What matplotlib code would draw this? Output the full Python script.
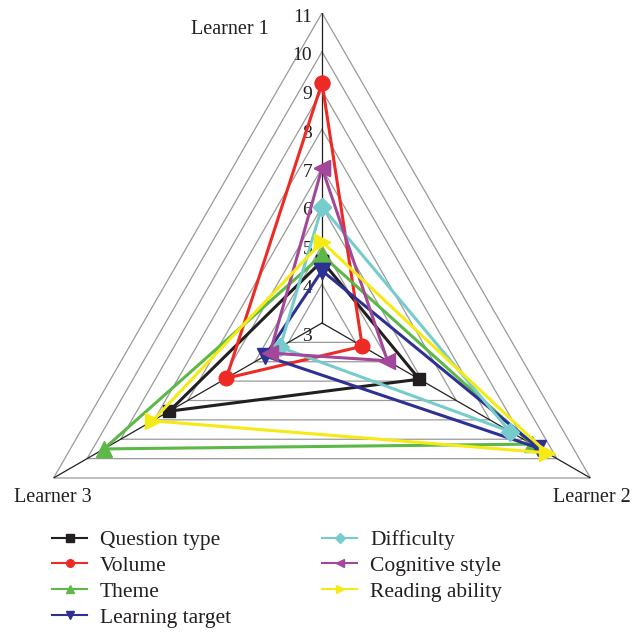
import numpy as np
import matplotlib
matplotlib.use("Agg")
import matplotlib.pyplot as plt
from matplotlib.lines import Line2D

plt.rcParams["font.family"] = ["Liberation Serif", "DejaVu Serif"]

learners = ["Learner 1", "Learner 2", "Learner 3"]
series_names = ["Question type", "Volume", "Theme", "Learning target",
                "Difficulty", "Cognitive style", "Reading ability"]
question_type = [4.6, 5.9, 7.55]
volume = [9.2, 4.2, 5.85]
theme = [4.75, 9.25, 9.5]
learning_target = [4.35, 9.45, 4.7]
difficulty = [6.0, 8.6, 4.25]
cognitive_style = [7.0, 4.95, 4.55]
reading_ability = [5.1, 9.7, 8.05]
tick_values = [3, 4, 5, 6, 7, 8, 9, 10, 11]

series_values = [question_type, volume, theme, learning_target,
                 difficulty, cognitive_style, reading_ability]
colors = ["#231f20", "#ee2a24", "#5cb847", "#2e3192", "#76cccc", "#a3479b", "#f5ea14"]
markers = ["s", "o", "^", "v", "D", "<", ">"]
msizes = [9, 10.5, 12, 12, 9, 12, 12]

W, H = 633, 635
fig = plt.figure(figsize=(W / 100, H / 100), dpi=100)
cx, cy, R = 322, 323, 310
ax = fig.add_axes([(cx - R) / W, (H - cy - R) / H, 2 * R / W, 2 * R / H], projection="polar")
ax.set_ylim(tick_values[0], tick_values[-1])
ax.grid(False)
ax.spines["polar"].set_visible(False)
ax.set_xticks([])
ax.set_yticks([])
ax.patch.set_visible(False)

thetas = np.deg2rad([90, -30, 210])
closed = np.append(thetas, thetas[0])

for v in tick_values[1:]:
    ax.plot(closed, [v] * 4, color="#9a9a9a", lw=0.9, zorder=1)
for th in thetas:
    ax.plot([th, th], [tick_values[0], tick_values[-1]], color="#231f20", lw=0.9, zorder=1.5)

for v in tick_values:
    dy = -10 if v == tick_values[0] else -3
    ax.annotate(str(v), xy=(np.pi / 2, v), xytext=(-7, dy), textcoords="offset points",
                ha="right", va="center", fontsize=14, color="#231f20")

for name, vals, c, m, ms in zip(series_names, series_values, colors, markers, msizes):
    ax.plot(closed, list(vals) + [vals[0]], color=c, lw=2.2, marker=m, markersize=ms,
            markeredgecolor=c, zorder=3, clip_on=False)

fig.text(230 / W, 1 - 30 / H, learners[0], ha="center", va="center", fontsize=14.5, color="#231f20")
fig.text(592 / W, 1 - 497 / H, learners[1], ha="center", va="center", fontsize=14.5, color="#231f20")
fig.text(53 / W, 1 - 497 / H, learners[2], ha="center", va="center", fontsize=14.5, color="#231f20")

handles = [Line2D([], [], color=c, lw=1.5, marker=m, markersize=5.5, markeredgecolor=c)
           for c, m in zip(colors, markers)]
kw = dict(frameon=False, fontsize=15.5, handlelength=1.63, handletextpad=0.6,
          labelspacing=0.27, borderpad=0, borderaxespad=0, loc="upper left",
          labelcolor="#231f20")
leg1 = fig.legend(handles[:4], series_names[:4], bbox_to_anchor=(52 / W, 1 - 530 / H), **kw)
leg2 = fig.legend(handles[4:], series_names[4:], bbox_to_anchor=(322 / W, 1 - 530 / H), **kw)

fig.savefig("out.png", dpi=100)
